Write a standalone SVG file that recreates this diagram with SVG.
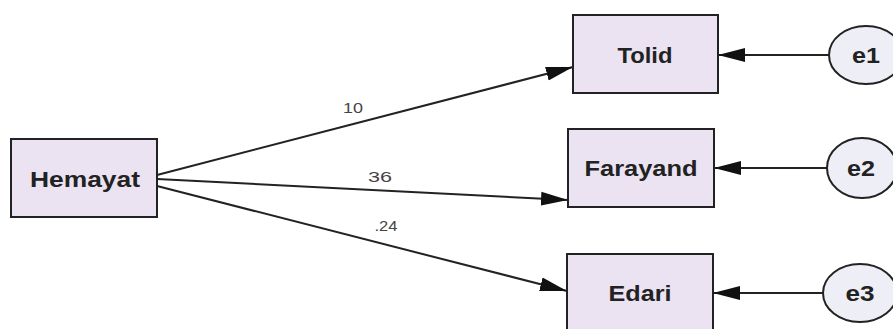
<svg xmlns="http://www.w3.org/2000/svg" width="893" height="329" viewBox="0 0 893 329">
<style>
.box{fill:#ebe3f2;stroke:#222;stroke-width:2}
.err{fill:#eeeef6;stroke:#222;stroke-width:2}
.lbl{font-family:"Liberation Sans",Arial,sans-serif;font-weight:bold;font-size:22px;fill:#222;text-anchor:middle;dominant-baseline:central}
.coef{font-family:"Liberation Sans",Arial,sans-serif;font-size:15px;fill:#444;text-anchor:middle;dominant-baseline:central}
.edge{stroke:#222;stroke-width:2;fill:none;marker-end:url(#ah)}
</style>
<defs>
<marker id="ah" markerUnits="userSpaceOnUse" markerWidth="28" markerHeight="16" refX="27" refY="8" orient="auto">
<path d="M0,1 L27,8 L0,15 Z" fill="#111"/>
</marker>
</defs>
<rect width="893" height="329" fill="#fff"/>
<g id="connectors">
<line class="edge" x1="157" y1="175" x2="573" y2="67"/>
<line class="edge" x1="157" y1="179" x2="568" y2="200"/>
<line class="edge" x1="157" y1="186" x2="567" y2="291"/>
<line class="edge" x1="829" y1="55" x2="718" y2="55"/>
<line class="edge" x1="827" y1="168" x2="714" y2="168"/>
<line class="edge" x1="823" y1="293" x2="713" y2="293"/>
<text class="coef" x="353" y="107" textLength="20" lengthAdjust="spacingAndGlyphs">10</text>
<text class="coef" x="380" y="176" textLength="24" lengthAdjust="spacingAndGlyphs">36</text>
<text class="coef" x="386" y="225" textLength="23" lengthAdjust="spacingAndGlyphs">.24</text>
</g>
<g id="Hemayat"><rect class="box" x="11" y="139" width="146" height="78"/><text class="lbl" x="85" y="179" textLength="110" lengthAdjust="spacingAndGlyphs">Hemayat</text></g>
<g id="Tolid"><rect class="box" x="573" y="15" width="145" height="78"/><text class="lbl" x="645" y="55" textLength="55" lengthAdjust="spacingAndGlyphs">Tolid</text></g>
<g id="Farayand"><rect class="box" x="568" y="129" width="146" height="78"/><text class="lbl" x="641" y="168" textLength="113" lengthAdjust="spacingAndGlyphs">Farayand</text></g>
<g id="Edari"><rect class="box" x="567" y="254" width="146" height="78"/><text class="lbl" x="640" y="293" textLength="63" lengthAdjust="spacingAndGlyphs">Edari</text></g>
<g id="e1"><ellipse class="err" cx="866" cy="55" rx="37" ry="29"/><text class="lbl" x="866" y="55" textLength="28" lengthAdjust="spacingAndGlyphs">e1</text></g>
<g id="e2"><ellipse class="err" cx="862" cy="168" rx="35" ry="30"/><text class="lbl" x="861" y="168" textLength="28" lengthAdjust="spacingAndGlyphs">e2</text></g>
<g id="e3"><ellipse class="err" cx="860" cy="293" rx="37" ry="29"/><text class="lbl" x="860" y="293" textLength="29" lengthAdjust="spacingAndGlyphs">e3</text></g>
</svg>
